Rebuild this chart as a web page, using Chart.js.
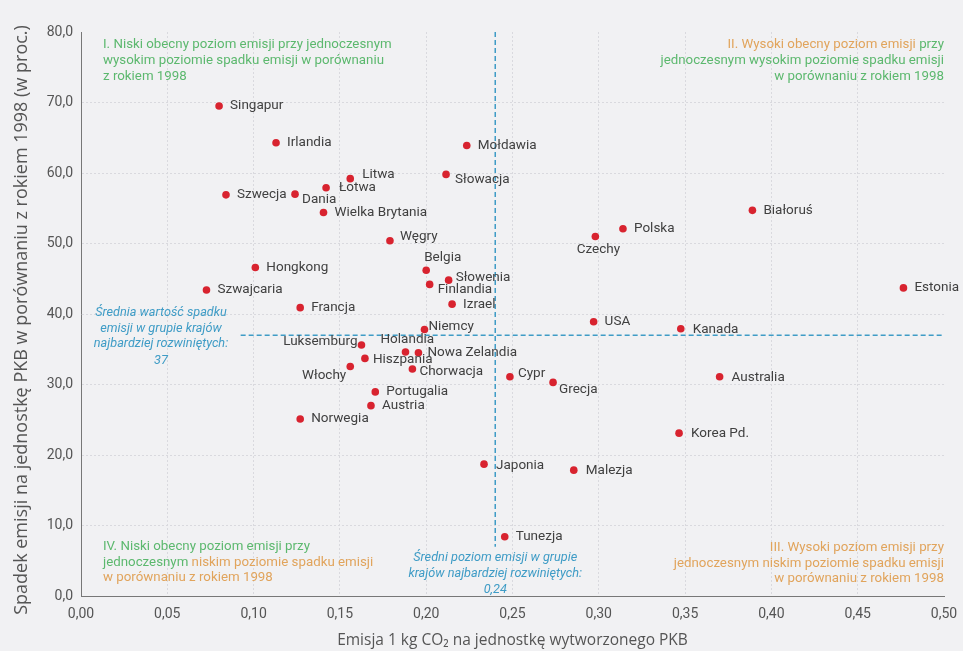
<!DOCTYPE html>
<html lang="pl">
<head>
<meta charset="utf-8">
<title>Emisja CO2 a spadek emisji</title>
<script src="https://cdn.jsdelivr.net/npm/chart.js@4.4.1/dist/chart.umd.min.js"></script>
<style>
    html, body { margin: 0; padding: 0; background: #f1f1f3; }
    #wrap { width: 963px; height: 651px; position: relative; }
</style>
</head>
<body>
<div id="wrap"><canvas id="chart"></canvas></div>
<script>
var countries = [
    'Singapur', 'Irlandia', 'Mołdawia', 'Litwa', 'Słowacja', 'Łotwa', 'Szwecja', 'Dania',
    'Wielka Brytania', 'Węgry', 'Białoruś', 'Polska', 'Czechy', 'Hongkong', 'Szwajcaria',
    'Francja', 'Belgia', 'Słowenia', 'Finlandia', 'Izrael', 'Niemcy', 'Luksemburg', 'Holandia',
    'Nowa Zelandia', 'Hiszpania', 'Włochy', 'Chorwacja', 'Portugalia', 'Austria', 'Norwegia',
    'Estonia', 'USA', 'Kanada', 'Cypr', 'Grecja', 'Australia', 'Korea Pd.', 'Japonia',
    'Malezja', 'Tunezja'
]

// emisja 1 kg CO2 na jednostke PKB
var emission = [
    0.080, 0.113, 0.2235, 0.156, 0.2115, 0.142, 0.084, 0.124,
    0.1405, 0.179, 0.389, 0.314, 0.298, 0.101, 0.0727,
    0.127, 0.200, 0.213, 0.202, 0.215, 0.199, 0.1625, 0.188,
    0.1955, 0.1645, 0.156, 0.192, 0.1705, 0.168, 0.127,
    0.4765, 0.297, 0.3475, 0.2485, 0.2735, 0.370, 0.3465, 0.2335,
    0.2855, 0.2455
]

// spadek emisji w porownaniu z 1998 (w proc.)
var decline = [
    69.5, 64.3, 63.9, 59.2, 59.8, 57.9, 56.9, 57.0,
    54.4, 50.4, 54.7, 52.1, 51.0, 46.6, 43.4,
    40.9, 46.2, 44.8, 44.2, 41.4, 37.8, 35.6, 34.6,
    34.5, 33.7, 32.55, 32.2, 28.95, 27.0, 25.1,
    43.7, 38.9, 37.9, 31.1, 30.3, 31.1, 23.1, 18.7,
    17.85, 8.4
]

var meanEmission = 0.24
var meanDecline = 37

var xTickValues = [0, 0.05, 0.10, 0.15, 0.20, 0.25, 0.30, 0.35, 0.40, 0.45, 0.50]
var yTickValues = [0, 10, 20, 30, 40, 50, 60, 70, 80]

var yTitle = 'Spadek emisji na jednostkę PKB w porównaniu z rokiem 1998 (w proc.)'
var xTitle = 'Emisja 1 kg CO₂ na jednostkę wytworzonego PKB'

// where the country name sits next to its dot: [dx, dy, align]
var labelPlacement = {
    'Litwa': [12, -4, 'left'],
    'Słowacja': [9, 5, 'left'],
    'Łotwa': [13, 0, 'left'],
    'Dania': [7, 5, 'left'],
    'Węgry': [10, -4, 'left'],
    'Czechy': [3, 13, 'center'],
    'Belgia': [-2, -13, 'left'],
    'Słowenia': [7, -3, 'left'],
    'Finlandia': [8, 5, 'left'],
    'Niemcy': [4, -3, 'left'],
    'Luksemburg': [-4, -3, 'right'],
    'Holandia': [-25, -12, 'left'],
    'Nowa Zelandia': [9, 0, 'left'],
    'Hiszpania': [8, 1, 'left'],
    'Włochy': [-4, 9, 'right'],
    'Chorwacja': [7, 3, 'left'],
    'Cypr': [8, -3, 'left'],
    'Grecja': [6, 7, 'left'],
    'Kanada': [12, 1, 'left'],
    'Australia': [12, 1, 'left'],
    'Korea Pd.': [12, 0, 'left'],
    'Japonia': [12, 1, 'left'],
    'Malezja': [12, 0, 'left']
}

var GREEN = '#5cb86e'
var ORANGE = '#e1a45c'
var BLUE = '#3f9cc6'
var RED = '#d8232f'

var points = countries.map(function (name, i) {
    return { x: emission[i], y: decline[i] }
})

function drawSegments(ctx, segments, x, y, align) {
    var total = 0
    segments.forEach(function (s) { total += ctx.measureText(s[0]).width })
    var start = x
    if (align === 'right') start = x - total
    if (align === 'center') start = x - total / 2
    ctx.textAlign = 'left'
    segments.forEach(function (s) {
        ctx.fillStyle = s[1]
        ctx.fillText(s[0], start, y)
        start += ctx.measureText(s[0]).width
    })
}

var labelsPlugin = {
    id: 'countryLabels',
    afterDatasetsDraw: function (chart) {
        var ctx = chart.ctx
        var meta = chart.getDatasetMeta(0)
        ctx.save()
        ctx.font = '13.5px Roboto'
        ctx.fillStyle = '#404040'
        ctx.textBaseline = 'middle'
        meta.data.forEach(function (el, i) {
            var p = labelPlacement[countries[i]] || [11, 0, 'left']
            ctx.textAlign = p[2]
            ctx.fillText(countries[i], el.x + p[0], el.y + p[1])
        })
        ctx.restore()
    },
    afterDraw: function (chart) {
        var ctx = chart.ctx
        var area = chart.chartArea
        var xs = chart.scales.x
        var ys = chart.scales.y
        ctx.save()
        ctx.textBaseline = 'middle'

        // y axis title, centred a little below the axis middle like the original
        ctx.save()
        ctx.translate(22, (area.top + area.bottom) / 2 + 6)
        ctx.rotate(-Math.PI / 2)
        ctx.font = '18px "Open Sans"'
        ctx.fillStyle = '#555'
        ctx.textAlign = 'center'
        ctx.fillText(yTitle, 0, 0)
        ctx.restore()

        ctx.font = '13.3px Roboto'
        var l = area.left + 22
        drawSegments(ctx, [['I. Niski obecny poziom emisji przy jednoczesnym', GREEN]], l, area.top + 13, 'left')
        drawSegments(ctx, [['wysokim poziomie spadku emisji w porównaniu', GREEN]], l, area.top + 29, 'left')
        drawSegments(ctx, [['z rokiem 1998', GREEN]], l, area.top + 45, 'left')

        var r = area.right
        drawSegments(ctx, [['II. Wysoki obecny poziom emisji', ORANGE], [' przy', GREEN]], r, area.top + 13, 'right')
        drawSegments(ctx, [['jednoczesnym wysokim poziomie spadku emisji', GREEN]], r, area.top + 29, 'right')
        drawSegments(ctx, [['w porównaniu z rokiem 1998', GREEN]], r, area.top + 45, 'right')

        drawSegments(ctx, [['IV. Niski obecny poziom emisji przy', GREEN]], l, area.bottom - 49, 'left')
        drawSegments(ctx, [['jednoczesnym', GREEN], [' niskim poziomie spadku emisji', ORANGE]], l, area.bottom - 33, 'left')
        drawSegments(ctx, [['w porównaniu z rokiem 1998', ORANGE]], l, area.bottom - 18, 'left')

        drawSegments(ctx, [['III. Wysoki poziom emisji przy', ORANGE]], r, area.bottom - 48, 'right')
        drawSegments(ctx, [['jednoczesnym niskim poziomie spadku emisji', ORANGE]], r, area.bottom - 32, 'right')
        drawSegments(ctx, [['w porównaniu z rokiem 1998', ORANGE]], r, area.bottom - 17, 'right')

        // averages
        ctx.font = 'italic 12.7px Roboto'
        ctx.fillStyle = BLUE
        ctx.textAlign = 'center'
        var cx = area.left + 80
        var cy = ys.getPixelForValue(meanDecline)
        ctx.fillText('Średnia wartość spadku', cx, cy - 22)
        ctx.fillText('emisji w grupie krajów', cx, cy - 6)
        ctx.fillText('najbardziej rozwiniętych:', cx, cy + 9)
        ctx.fillText(String(meanDecline), cx, cy + 26)

        var mx = xs.getPixelForValue(meanEmission)
        ctx.fillText('Średni poziom emisji w grupie', mx, area.bottom - 38)
        ctx.fillText('krajów najbardziej rozwiniętych:', mx, area.bottom - 22)
        ctx.fillText(meanEmission.toFixed(2).replace('.', ','), mx, area.bottom - 6)
        ctx.restore()
    }
}

var ctx = document.getElementById('chart').getContext('2d')

var chart = new Chart(ctx, {
    type: 'scatter',
    data: {
        datasets: [
            {
                data: points,
                backgroundColor: RED,
                borderWidth: 0,
                pointRadius: 3.8,
                pointHoverRadius: 3.8
            },
            {
                type: 'line',
                data: [{ x: 0.0925, y: meanDecline }, { x: 0.5, y: meanDecline }],
                borderColor: BLUE,
                borderWidth: 1.5,
                borderDash: [5, 3],
                pointRadius: 0,
                fill: false
            },
            {
                type: 'line',
                data: [{ x: meanEmission, y: 80 }, { x: meanEmission, y: 7 }],
                borderColor: BLUE,
                borderWidth: 1.5,
                borderDash: [5, 3],
                pointRadius: 0,
                fill: false
            }
        ]
    },
    options: {
        responsive: true,
        maintainAspectRatio: false,
        animation: false,
        layout: { padding: { top: 32, right: 19, left: 0, bottom: 0 } },
        plugins: {
            legend: { display: false },
            tooltip: { enabled: false }
        },
        scales: {
            x: {
                type: 'linear',
                min: 0,
                max: 0.5,
                afterBuildTicks: function (s) {
                    s.ticks = xTickValues.map(function (v) { return { value: v } })
                },
                afterFit: function (s) {
                    s.height = 55
                    s.paddingLeft = 0
                    s.paddingRight = 0
                },
                ticks: {
                    color: '#555',
                    font: { family: 'Roboto', size: 14 },
                    padding: 10,
                    callback: function (v) { return v.toFixed(2).replace('.', ',') }
                },
                grid: {
                    drawTicks: false,
                    color: function (c) {
                        return (c.tick && (c.tick.value === 0 || c.tick.value === 0.5)) ? 'rgba(0,0,0,0)' : '#d9d9de'
                    }
                },
                border: { display: true, color: '#777', dash: [2, 2], width: 1 },
                title: {
                    display: true,
                    text: xTitle,
                    color: '#555',
                    font: { family: 'Open Sans', size: 15.5 },
                    padding: { top: 0, bottom: 1 }
                }
            },
            y: {
                type: 'linear',
                min: 0,
                max: 80,
                afterBuildTicks: function (s) {
                    s.ticks = yTickValues.map(function (v) { return { value: v } })
                },
                afterFit: function (s) { s.width = 81 },
                ticks: {
                    color: '#555',
                    font: { family: 'Roboto', size: 14 },
                    padding: 8,
                    callback: function (v) { return v.toFixed(1).replace('.', ',') }
                },
                grid: {
                    drawTicks: false,
                    color: function (c) {
                        return (c.tick && (c.tick.value === 0 || c.tick.value === 80)) ? 'rgba(0,0,0,0)' : '#d9d9de'
                    }
                },
                border: { display: true, color: '#777', dash: [2, 2], width: 1 },
                title: { display: false }
            }
        }
    },
    plugins: [labelsPlugin]
})
</script>
</body>
</html>
